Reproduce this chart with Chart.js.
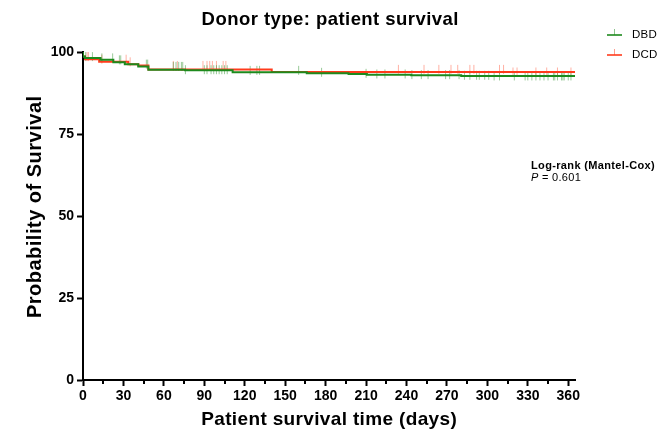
<!DOCTYPE html>
<html>
<head>
<meta charset="utf-8">
<script src="https://cdn.jsdelivr.net/npm/chart.js@4/dist/chart.umd.min.js"></script>
<style>
html,body{margin:0;padding:0;background:#fff;}
#wrap{width:659px;height:433px;position:relative;}
</style>
</head>
<body>
<div id="wrap"><canvas id="c" width="659" height="433"></canvas></div>
<script>
// Kaplan-Meier step data (days, % survival)
const dbdTimes  = [0, 1.5, 13, 22.5, 31, 41, 48.5, 75.7, 111, 166, 197, 210.6, 243.5, 280.6, 305, 365];
const dbdValues = [100, 98.6, 98.2, 97.6, 96.9, 96.3, 95.6, 94.6, 94.4, 93.8, 93.5, 93.3, 93.1, 92.9, 92.7, 92.7];
const dcdTimes  = [0, 1.5, 12, 33.6, 41, 48.5, 140, 312.5, 365];
const dcdValues = [100, 98.6, 97.8, 97.0, 96.3, 95.9, 94.7, 93.9, 93.9];
// censoring times (days)
const dbdCensor = [2, 7, 14, 22, 27, 28, 47, 48, 67, 69, 71, 73, 74, 76, 90, 92, 95, 97, 99, 101, 103, 105, 107, 124, 129, 131, 160, 177, 210, 218, 224, 239, 244, 251, 256, 269, 272, 279, 283, 287, 292, 294, 298, 301, 305, 309, 320, 328, 330, 333, 336, 339, 342, 345, 349, 350, 352, 355, 356, 357, 360, 362];
const dcdCensor = [3, 4, 14, 32, 35, 67, 70, 89, 92, 94, 96, 99, 104, 106, 234, 253, 264, 273, 278, 287, 290, 309, 312, 319, 322, 336, 344, 352, 362];
const xTicks = [0, 30, 60, 90, 120, 150, 180, 210, 240, 270, 300, 330, 360];
const yTicks = [0, 25, 50, 75, 100];
const seriesNames = ['DBD', 'DCD'];
const chartTitle = 'Donor type: patient survival';
const xTitle = 'Patient survival time (days)';
const yTitle = 'Probability of Survival';

const GREEN = '#1d8a1d';
const RED = '#ff3b1c';

function survAt(times, vals, t) {
  let v = vals[0];
  for (let i = 0; i < times.length; i++) { if (times[i] <= t) v = vals[i]; }
  return v;
}
const toPts = (ts, vs) => ts.map((t, i) => ({x: t, y: vs[i]}));
const censorPts = (cs, ts, vs) => cs.map(t => ({x: t, y: survAt(ts, vs, t)}));

const FONT = "'Liberation Sans', Arial, sans-serif";

function spacedText(ctx, text, x, y, font, spacing, align) {
  ctx.font = font;
  ctx.letterSpacing = spacing + 'px';
  const w = ctx.measureText(text).width - spacing;
  let sx = x;
  if (align === 'center') sx = x - w / 2;
  ctx.textAlign = 'left';
  ctx.fillText(text, sx, y);
  ctx.letterSpacing = '0px';
  return w;
}

const extras = {
  id: 'extras',
  afterDraw(chart) {
    const ctx = chart.ctx;
    const xs = chart.scales.x, ys = chart.scales.y;
    ctx.save();
    // minor x ticks
    ctx.strokeStyle = '#000';
    ctx.lineWidth = 2;
    for (let v = 15; v < 365; v += 30) {
      const px = Math.round(xs.getPixelForValue(v));
      ctx.beginPath();
      ctx.moveTo(px, ys.bottom);
      ctx.lineTo(px, ys.bottom + 4);
      ctx.stroke();
    }
    ctx.fillStyle = '#000';
    ctx.textBaseline = 'middle';
    // chart title
    spacedText(ctx, chartTitle, 330, 20, "bold 18.5px " + FONT, 0.45, 'center');
    // x title
    spacedText(ctx, xTitle, 329, 420, "bold 19px " + FONT, 0.35, 'center');
    // y title
    ctx.save();
    ctx.translate(35, 207);
    ctx.rotate(-Math.PI / 2);
    spacedText(ctx, yTitle, 0, 0, "bold 20px " + FONT, 0.5, 'center');
    ctx.restore();
    // legend
    const items = [{name: seriesNames[0], c: GREEN, y: 35}, {name: seriesNames[1], c: RED, y: 55}];
    items.forEach(it => {
      ctx.strokeStyle = it.c;
      ctx.lineWidth = 1.6;
      ctx.beginPath();
      ctx.moveTo(607, it.y); ctx.lineTo(622, it.y);
      ctx.stroke();
      ctx.globalAlpha = 0.5;
      ctx.lineWidth = 1;
      ctx.beginPath();
      ctx.moveTo(614.5, it.y); ctx.lineTo(614.5, it.y - 6);
      ctx.stroke();
      ctx.globalAlpha = 1;
      ctx.fillStyle = '#000';
      spacedText(ctx, it.name, 632, it.y, "11.5px " + FONT, 0.2, 'left');
    });
    // log-rank annotation
    ctx.textBaseline = 'alphabetic';
    spacedText(ctx, 'Log-rank (Mantel-Cox)', 531, 169, "bold 11px " + FONT, 0.35, 'left');
    const w = spacedText(ctx, 'P', 531, 181, "italic 11px " + FONT, 0.3, 'left');
    spacedText(ctx, ' = 0.601', 531 + w + 0.3, 181, "11px " + FONT, 0.3, 'left');
    ctx.restore();
  }
};

new Chart(document.getElementById('c'), {
  type: 'line',
  data: {
    datasets: [
      {label: seriesNames[0], data: toPts(dbdTimes, dbdValues), borderColor: GREEN, borderWidth: 2, stepped: 'after', pointRadius: 0, fill: false},
      {label: seriesNames[1], data: toPts(dcdTimes, dcdValues), borderColor: RED, borderWidth: 2, stepped: 'after', pointRadius: 0, fill: false},
      {label: 'DBD censored', type: 'scatter', data: censorPts(dbdCensor, dbdTimes, dbdValues), pointStyle: 'line', pointRotation: 90, pointRadius: 4.5, borderColor: 'rgba(29,138,29,0.45)', borderWidth: 1, showLine: false},
      {label: 'DCD censored', type: 'scatter', data: censorPts(dcdCensor, dcdTimes, dcdValues), pointStyle: 'line', pointRotation: 90, pointRadius: 4.5, borderColor: 'rgba(255,59,28,0.4)', borderWidth: 1, showLine: false}
    ]
  },
  options: {
    responsive: false,
    animation: false,
    devicePixelRatio: 1,
    layout: {padding: {left: 0, right: 84, top: 52, bottom: 0}},
    plugins: {
      legend: {display: false},
      tooltip: {enabled: false},
      title: {display: false}
    },
    scales: {
      x: {
        type: 'linear', min: 0, max: 365,
        afterBuildTicks: s => { s.ticks = xTicks.map(v => ({value: v})); },
        afterFit: s => { s.height = 53; },
        border: {display: true, color: '#000', width: 2},
        grid: {display: true, drawOnChartArea: false, drawTicks: true, tickLength: 6, tickWidth: 2, tickColor: '#000'},
        ticks: {color: '#000', font: {family: FONT, size: 14, weight: 'bold'}, padding: 2, maxRotation: 0, autoSkip: false}
      },
      y: {
        type: 'linear', min: 0, max: 100,
        afterBuildTicks: s => { s.ticks = yTicks.map(v => ({value: v})); },
        afterFit: s => { s.width = 83; },
        border: {display: true, color: '#000', width: 2},
        grid: {display: true, drawOnChartArea: false, drawTicks: true, tickLength: 6, tickWidth: 2, tickColor: '#000'},
        ticks: {color: '#000', font: {family: FONT, size: 14, weight: 'bold'}, padding: 3}
      }
    }
  },
  plugins: [extras]
});
</script>
</body>
</html>
